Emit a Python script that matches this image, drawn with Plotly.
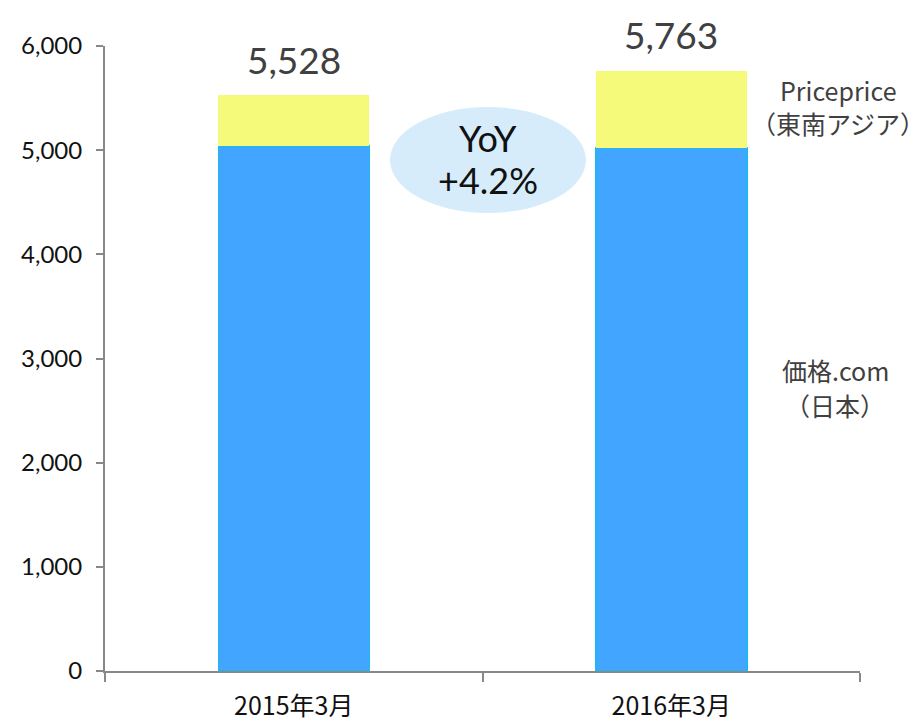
import plotly.graph_objects as go

categories = ["2015年3月", "2016年3月"]
kakaku_japan = [5040, 5020]
priceprice_sea = [488, 743]
totals = [5528, 5763]
y_ticks = [0, 1000, 2000, 3000, 4000, 5000, 6000]
y_tick_labels = ["0", "1,000", "2,000", "3,000", "4,000", "5,000", "6,000"]
total_labels = ["5,528", "5,763"]
yoy_lines = ["YoY", "+4.2%"]
priceprice_lines = ["Priceprice", "（東南アジア）"]
kakaku_lines = ["価格.com", "（日本）"]

fig = go.Figure()
fig.add_trace(go.Bar(
    x=categories, y=kakaku_japan, name="価格.com（日本）",
    marker=dict(color="#42A5FF", line=dict(color="#1CB8F2", width=1.5)),
    width=0.4,
))
fig.add_trace(go.Bar(
    x=categories, y=priceprice_sea, name="Priceprice（東南アジア）",
    marker=dict(color="#F6FA7B", line=dict(color="#F6FA7B", width=0)),
    width=0.4,
))

for c, t, lab in zip(categories, totals, total_labels):
    fig.add_annotation(x=c, y=t, text=lab, showarrow=False, yanchor="middle",
                       yshift=36, font=dict(family="Lato, Noto Sans", size=37, color="#404040"))

# YoY ellipse
fig.add_shape(type="circle", xref="x", yref="y", x0=0.255, x1=0.774, y0=4397, y1=5414,
              fillcolor="#D6ECFB", line=dict(width=0), layer="above")
for line, shift in zip(yoy_lines, [22, -20]):
    fig.add_annotation(x=0.515, y=4906, xref="x", yref="y", text=line, showarrow=False,
                       yshift=shift, font=dict(family="Lato, Noto Sans", size=36, color="#111111"))

# series labels at right
for line, shift in zip(priceprice_lines, [19, -14]):
    fig.add_annotation(x=1.442, y=kakaku_japan[1] + priceprice_sea[1] / 2, yshift=shift, text=line,
                       showarrow=False, borderpad=0,
                       font=dict(family="Noto Sans CJK JP", size=25, color="#404040"))
for line, shift in zip(kakaku_lines, [40, 5]):
    fig.add_annotation(x=1.435, y=kakaku_japan[1] / 2, yshift=shift, text=line,
                       showarrow=False, borderpad=0,
                       font=dict(family="Noto Sans CJK JP", size=25, color="#404040"))

fig.update_layout(
    barmode="stack",
    width=916, height=717,
    margin=dict(l=97, r=64, t=38, b=54),
    plot_bgcolor="white", paper_bgcolor="white",
    showlegend=False,
    xaxis=dict(
        type="category", range=[-0.5, 1.5], showline=True, linecolor="#888888", linewidth=2,
        ticks="outside", tickson="boundaries", ticklen=9, tickcolor="#888888", tickwidth=1.5,
        ticklabelstandoff=12, automargin=False,
        tickfont=dict(family="Liberation Sans Narrow, Noto Sans CJK JP", size=25, color="#111111"),
        showgrid=False,
    ),
    yaxis=dict(
        range=[0, 6000], tickvals=y_ticks, ticktext=y_tick_labels, showline=True,
        linecolor="#888888", linewidth=2, ticks="outside", ticklen=7, tickcolor="#888888",
        tickwidth=1.5, showgrid=False, zeroline=False, automargin=False,
        ticklabelstandoff=9,
        tickfont=dict(family="Lato, Noto Sans", size=24, color="#111111"),
    ),
)

fig.write_html("out.html")
